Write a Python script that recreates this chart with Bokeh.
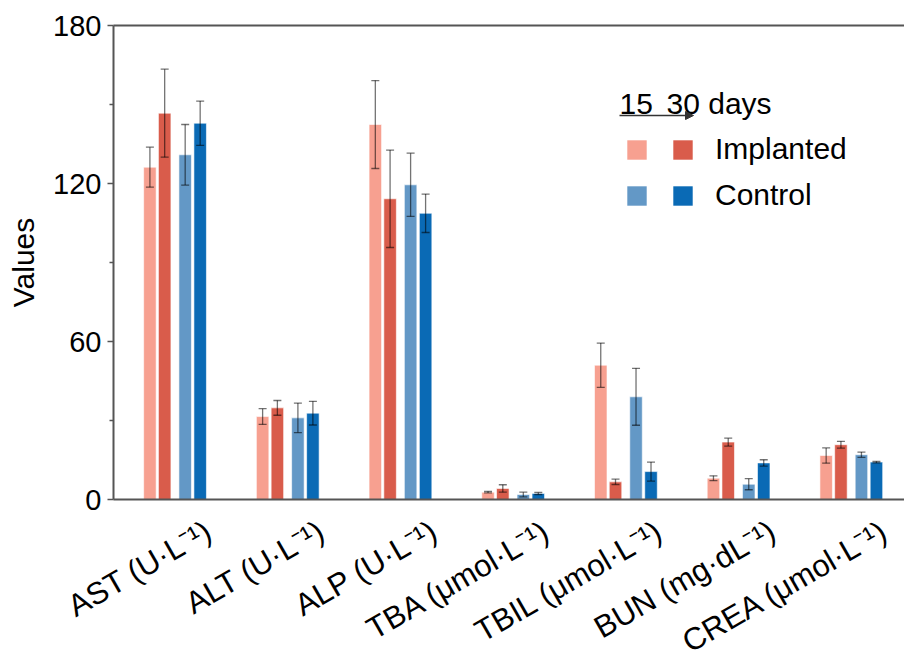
import numpy as np
from bokeh.plotting import figure
from bokeh.layouts import column
from bokeh.models import (ColumnDataSource, Whisker, TeeHead, Label, Arrow,
                          NormalHead, Legend, LegendItem, FixedTicker, LinearAxis, Range1d)
from bokeh.embed import file_html
from bokeh.resources import INLINE
from bokeh.core.properties import value

# ---------------- data ----------------
categories = ["AST (U·L⁻¹)", "ALT (U·L⁻¹)", "ALP (U·L⁻¹)", "TBA (μmol·L⁻¹)",
              "TBIL (μmol·L⁻¹)", "BUN (mg·dL⁻¹)", "CREA (μmol·L⁻¹)"]

implanted_15 = [126.2, 31.5, 142.4, 2.8, 51.0, 8.1, 16.7]
implanted_15_err = [7.6, 3.0, 16.7, 0.3, 8.4, 0.9, 2.9]
implanted_30 = [146.7, 34.8, 114.2, 4.2, 6.7, 21.8, 20.8]
implanted_30_err = [16.7, 2.8, 18.5, 1.4, 1.0, 1.5, 1.3]
control_15 = [130.9, 31.0, 119.5, 1.9, 39.0, 5.8, 17.0]
control_15_err = [11.5, 5.6, 12.0, 0.9, 10.8, 2.1, 1.0]
control_30 = [142.9, 32.8, 108.7, 2.3, 10.6, 13.9, 14.2]
control_30_err = [8.4, 4.5, 7.3, 0.4, 3.6, 1.2, 0.3]

y_ticks = [0, 60, 120, 180]
y_minor = [30, 90, 150]

series = [
    ("Implanted 15", implanted_15, implanted_15_err, "#F7A090", -0.224),
    ("Implanted 30", implanted_30, implanted_30_err, "#D95C4B", -0.093),
    ("Control 15", control_15, control_15_err, "#6398C6", 0.089),
    ("Control 30", control_30, control_30_err, "#0A6AB5", 0.222),
]

FONT = "Liberation Sans"
AXIS_COLOR = "#555555"
X_START, X_END = -0.547, 6.471
LEFT = 113
W = 904
P_H = 514
PX_PER_UNIT = (W - LEFT) / (X_END - X_START)
LABEL_SHIFT = 0.30   # horizontal shift of the rotated category labels (group units)
STRIP_H = 650 - P_H
LABEL_Y = STRIP_H - 14   # anchor height of the labels inside the label strip

p = figure(width=W, height=P_H, output_backend="svg", toolbar_location=None,
           x_range=Range1d(X_START, X_END), y_range=Range1d(0, 180),
           min_border_left=LEFT, min_border_right=0, min_border_top=25,
           min_border_bottom=P_H - 499)
p.outline_line_color = None
p.background_fill_color = "white"
p.border_fill_color = "white"
p.xgrid.visible = False
p.ygrid.visible = False

idx = np.arange(len(categories))
bar_w = 0.111

bar_renderers = []
for name, vals, errs, color, off in series:
    vals = np.array(vals)
    errs = np.array(errs)
    src = ColumnDataSource(dict(x=idx + off, top=vals, upper=vals + errs, lower=vals - errs))
    r = p.vbar(x="x", top="top", width=bar_w, bottom=0, source=src, fill_color=color,
               line_color="white", line_width=1, line_alpha=0.6)
    bar_renderers.append(r)
    w = Whisker(base="x", upper="upper", lower="lower", source=src, level="annotation",
                line_color="black", line_alpha=0.55, line_width=1.3,
                upper_head=TeeHead(size=8, line_color="black", line_alpha=0.55, line_width=1.3),
                lower_head=TeeHead(size=8, line_color="black", line_alpha=0.55, line_width=1.3))
    p.add_layout(w)

# ---------------- axes ----------------
p.yaxis.ticker = FixedTicker(ticks=y_ticks, minor_ticks=y_minor)
p.yaxis.axis_label = "Values"
p.yaxis.axis_label_text_font = FONT
p.yaxis.axis_label_text_font_style = "normal"
p.yaxis.axis_label_text_font_size = "30px"
p.yaxis.axis_label_text_color = "black"
p.yaxis.axis_label_standoff = 10
p.yaxis.major_label_text_font = FONT
p.yaxis.major_label_text_font_size = "29px"
p.yaxis.major_label_text_color = "black"
p.yaxis.major_label_standoff = 6
p.yaxis.major_tick_out = 6
p.yaxis.major_tick_in = 0
p.yaxis.minor_tick_out = 4
p.yaxis.minor_tick_in = 0
for ax in p.yaxis:
    ax.axis_line_color = AXIS_COLOR
    ax.axis_line_width = 2
    ax.major_tick_line_color = AXIS_COLOR
    ax.major_tick_line_width = 1.5
    ax.minor_tick_line_color = AXIS_COLOR
    ax.minor_tick_line_width = 1.5

p.xaxis.ticker = FixedTicker(ticks=[])
p.xaxis.major_tick_line_color = None
p.xaxis.minor_tick_line_color = None
p.xaxis.major_tick_out = 0
p.xaxis.major_label_standoff = 0
p.xaxis.axis_line_color = AXIS_COLOR
p.xaxis.axis_line_width = 2

top_axis = LinearAxis(ticker=FixedTicker(ticks=[]), axis_line_color=AXIS_COLOR, axis_line_width=2,
                      major_tick_line_color=None, minor_tick_line_color=None,
                      major_tick_out=0, major_label_standoff=0)
p.add_layout(top_axis, "above")

# ---------------- legend ----------------
leg_a = Legend(items=[LegendItem(label=" ", renderers=[bar_renderers[0]]),
                      LegendItem(label=" ", renderers=[bar_renderers[2]])],
               location=(511, 286))
leg_b = Legend(items=[LegendItem(label="Implanted", renderers=[bar_renderers[1]]),
                      LegendItem(label="Control", renderers=[bar_renderers[3]])],
               location=(557, 286))
for lg in (leg_a, leg_b):
    lg.glyph_width = 25
    lg.glyph_height = 25
    lg.label_height = 36
    lg.label_text_font = FONT
    lg.label_text_font_size = "30px"
    lg.label_text_color = "black"
    lg.label_standoff = 20
    lg.spacing = 10
    lg.padding = 0
    lg.margin = 0
    lg.border_line_color = None
    lg.background_fill_alpha = 0
    p.add_layout(lg)

p.add_layout(Label(x=506, y=396, x_units="screen", y_units="screen", text="15",
                   text_font=FONT, text_font_size="30px", text_color="black",
                   text_baseline="alphabetic"))
p.add_layout(Label(x=553, y=396, x_units="screen", y_units="screen", text="30 days",
                   text_font=FONT, text_font_size="30px", text_color="black",
                   text_baseline="alphabetic"))
p.add_layout(Arrow(x_start=506, y_start=384, x_end=580, y_end=384,
                   start_units="screen", end_units="screen",
                   line_color="#333333", line_width=1.5,
                   end=NormalHead(size=8, fill_color="#333333", line_color="#333333")))

# ---------------- category label strip (same x mapping as the plot) ----------------
q = figure(width=W, height=STRIP_H, output_backend="svg", toolbar_location=None,
           x_range=Range1d(X_START - LEFT / PX_PER_UNIT, X_END), y_range=Range1d(0, STRIP_H),
           min_border=0, min_border_left=0, min_border_right=0,
           min_border_top=0, min_border_bottom=0,
           x_axis_type=None, y_axis_type=None)
q.outline_line_color = None
q.background_fill_color = "white"
q.border_fill_color = "white"
q.text(x=idx + LABEL_SHIFT, y=LABEL_Y, text=categories, angle=np.pi / 6,
       text_align="right", text_baseline="middle",
       text_font=value(FONT), text_font_size=value("31px"), text_color="black")

for fig in (p, q):
    if "frame_align" in fig.properties():
        fig.frame_align = False

layout = column(p, q, spacing=0)
open("out.html", "w").write(file_html(layout, INLINE))
